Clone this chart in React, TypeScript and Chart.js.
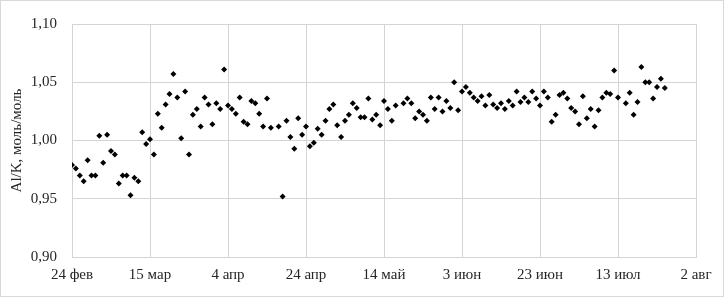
import React, { useEffect, useRef } from "react";
import { Chart, registerables } from "chart.js";

Chart.register(...registerables);

// Day offsets from 24 Feb (leap year) and Al/K values
const DAYS = [
  0, 1, 2, 3, 4, 5, 6, 7, 8, 9, 10, 11, 12, 13, 14, 15, 16, 17, 18, 19, 20, 21, 22, 23, 24, 25, 26,
  27, 28, 29, 30, 31, 32, 33, 34, 35, 36, 37, 38, 39, 40, 41, 42, 43, 44, 45, 46, 47, 48, 49, 50, 51,
  53, 54, 55, 56, 57, 58, 59, 60, 61, 62, 63, 64, 65, 66, 67, 68, 69, 70, 71, 72, 73, 74, 75, 76, 77,
  78, 79, 80, 81, 82, 83, 85, 86, 87, 88, 89, 90, 91, 92, 93, 94, 95, 96, 97, 98, 99, 100, 101, 102,
  103, 104, 105, 106, 107, 108, 109, 110, 111, 112, 113, 114, 115, 116, 117, 118, 119, 120, 121, 122,
  123, 124, 125, 126, 127, 128, 129, 130, 131, 132, 133, 134, 135, 136, 137, 138, 139, 140,
  142, 143, 144, 145, 146, 147, 148, 149, 150, 151, 152,
];

const VALUES = [
  0.979, 0.976, 0.970, 0.965, 0.983, 0.970, 0.970, 1.004, 0.981, 1.005, 0.991, 0.988, 0.963, 0.970,
  0.970, 0.953, 0.968, 0.965, 1.007, 0.997, 1.001, 0.988, 1.023, 1.011, 1.031, 1.040, 1.057,
  1.037, 1.002, 1.042, 0.988, 1.022, 1.027, 1.012, 1.037, 1.031, 1.014, 1.032, 1.027, 1.061, 1.030,
  1.027, 1.023, 1.037, 1.016, 1.014, 1.034, 1.032, 1.023, 1.012, 1.036, 1.011,
  1.012, 0.952, 1.017, 1.003, 0.993, 1.019, 1.005, 1.012, 0.995, 0.998, 1.010, 1.005, 1.017, 1.027,
  1.031, 1.013, 1.003, 1.017, 1.022, 1.032, 1.028, 1.020, 1.020, 1.036, 1.018,
  1.022, 1.013, 1.034, 1.027, 1.017, 1.030, 1.032, 1.036, 1.032, 1.019, 1.025, 1.022, 1.017, 1.037,
  1.027, 1.037, 1.025, 1.034, 1.028, 1.050, 1.026, 1.042, 1.046, 1.041, 1.037,
  1.034, 1.038, 1.030, 1.039, 1.031, 1.028, 1.032, 1.027, 1.034, 1.030, 1.042, 1.033, 1.037, 1.033,
  1.042, 1.036, 1.030, 1.042, 1.037, 1.016,
  1.022, 1.039, 1.041, 1.036, 1.028, 1.025, 1.014, 1.038, 1.019, 1.027, 1.012, 1.026, 1.037, 1.041,
  1.040, 1.060, 1.037,
  1.032, 1.041, 1.022, 1.033, 1.063, 1.050, 1.050, 1.036, 1.046, 1.053, 1.045,
];

const X_TICK_LABELS = [
  "24 фев", "15 мар", "4 апр", "24 апр", "14 май", "3 июн", "23 июн", "13 июл", "2 авг",
];
const X_STEP = 20;
const Y_MIN = 0.9;
const Y_MAX = 1.1;
const Y_STEP = 0.05;
const Y_TITLE = "Al/K, моль/моль";

const FONT = "'Liberation Serif', 'Times New Roman', serif";
const GRID = "#d4d4d4";
const TEXT = "#262626";

const borderPlugin = {
  id: "outerBorder",
  afterDraw(chart: any) {
    const ctx = chart.ctx;
    ctx.save();
    ctx.strokeStyle = "#d9d9d9";
    ctx.lineWidth = 1;
    ctx.strokeRect(0.5, 0.5, chart.width - 1, chart.height - 1);
    ctx.restore();
  },
};

export default function App() {
  const ref = useRef<HTMLCanvasElement | null>(null);

  useEffect(() => {
    document.body.style.margin = "0";
    const canvas = ref.current;
    if (!canvas) return;
    const data = DAYS.map((d, i) => ({ x: d, y: VALUES[i] }));
    const chart = new Chart(canvas, {
      type: "scatter",
      data: {
        datasets: [
          {
            data,
            pointStyle: "rectRot",
            pointRadius: 3,
            pointBorderWidth: 0,
            backgroundColor: "#000000",
            borderColor: "#000000",
          },
        ],
      },
      options: {
        animation: false,
        responsive: false,
        devicePixelRatio: 1,
        layout: { padding: { top: 14, right: 28, left: 0, bottom: 0 } },
        plugins: {
          legend: { display: false },
          tooltip: { enabled: false },
        },
        scales: {
          x: {
            type: "linear",
            min: 0,
            max: (X_TICK_LABELS.length - 1) * X_STEP,
            afterFit: (s: any) => {
              s.height = 40;
            },
            ticks: {
              stepSize: X_STEP,
              autoSkip: false,
              maxRotation: 0,
              padding: 9,
              color: TEXT,
              font: { family: FONT, size: 15 },
              callback: (v: any) => {
                const idx = Math.round(Number(v) / X_STEP);
                return X_TICK_LABELS[idx] ?? "";
              },
            },
            grid: { color: GRID, drawTicks: false, lineWidth: 1 },
            border: { color: GRID, width: 1 },
          },
          y: {
            type: "linear",
            min: Y_MIN,
            max: Y_MAX,
            afterFit: (s: any) => {
              s.width = 72;
            },
            ticks: {
              stepSize: Y_STEP,
              padding: 15,
              color: TEXT,
              font: { family: FONT, size: 15 },
              callback: (v: any) => Number(v).toFixed(2).replace(".", ","),
            },
            grid: { color: GRID, drawTicks: false, lineWidth: 1 },
            border: { color: GRID, width: 1 },
            title: {
              display: true,
              text: Y_TITLE,
              color: TEXT,
              font: { family: FONT, size: 15 },
              padding: { top: 8, bottom: 0 },
            },
          },
        },
      },
      plugins: [borderPlugin],
    });
    return () => chart.destroy();
  }, []);

  return (
    <div style={{ width: 724, height: 297 }}>
      <canvas ref={ref} width={724} height={297} style={{ width: 724, height: 297, display: "block" }} />
    </div>
  );
}
